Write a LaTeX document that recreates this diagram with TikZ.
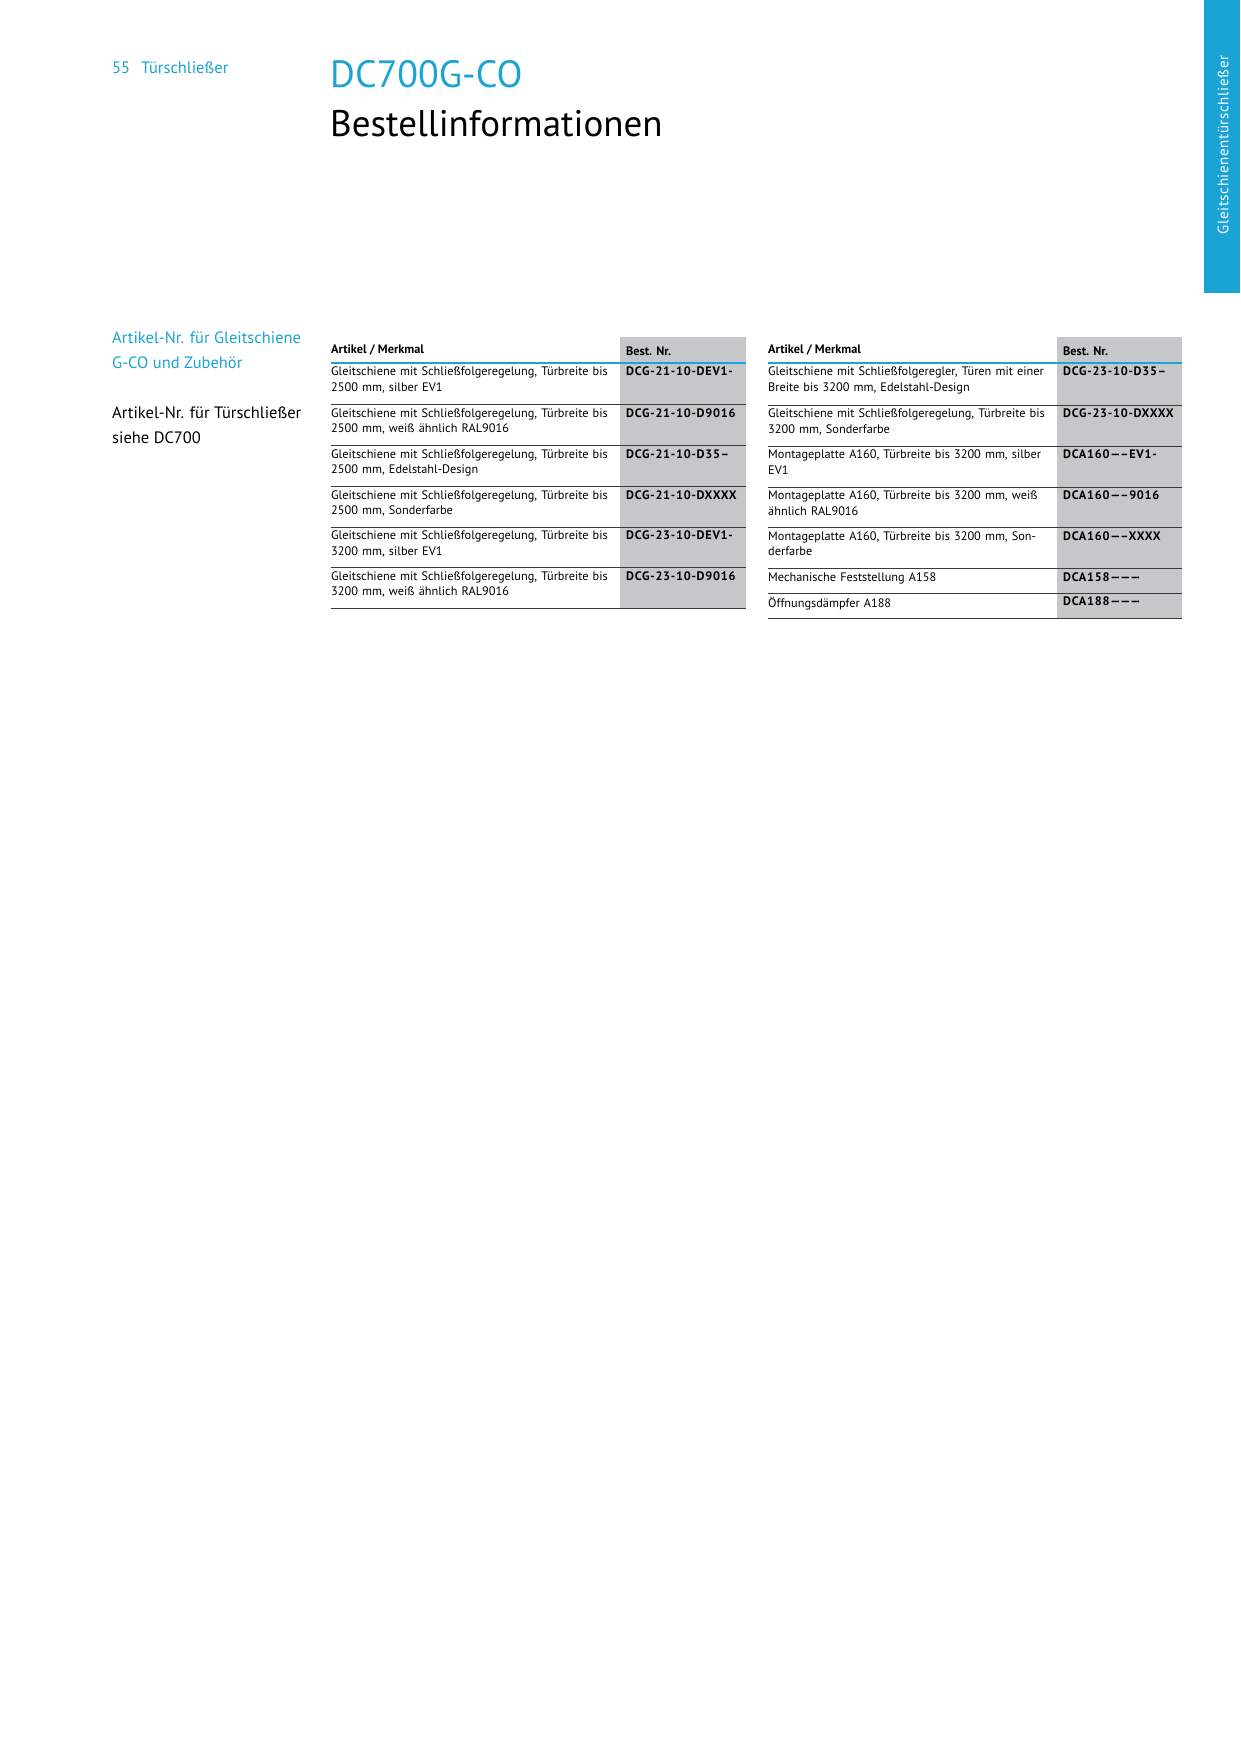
\documentclass[tikz,border=0pt]{standalone}
\usepackage{fontspec}
\setmainfont{PT Sans}
\definecolor{dblue}{HTML}{1AA3D5}
\definecolor{colgrey}{HTML}{C6C7C9}
\definecolor{lineg}{HTML}{3A3A3A}
\tikzset{
  cell/.style={anchor=north west,inner sep=0pt,align=left,text width=#1,font=\fontsize{12.3}{15.4}\selectfont},
  code/.style={anchor=north west,inner sep=0pt,font=\fontsize{12.3}{15.4}\selectfont\bfseries\addfontfeature{LetterSpace=6}},
  hdr/.style={anchor=west,inner sep=0pt,font=\fontsize{12.3}{15}\selectfont\bfseries},
  sep/.style={draw=lineg,line width=1pt},
  side/.style={anchor=north west,inner sep=0pt,align=left,font=\fontsize{16.5}{25}\selectfont}
}
\begin{document}
\begin{tikzpicture}[x=1pt,y=-1pt]
\useasboundingbox (0,0) rectangle (1240,1754);
\fill[white] (0,0) rectangle (1240,1754);
% tab
\fill[dblue] (1204,0) rectangle (1240,293);
\node[rotate=90,text=white,font=\fontsize{15}{15}\selectfont\addfontfeature{LetterSpace=4}] (tab) at (1223,145) {Gleitschienentürschließer};
% header
\node[anchor=base west,inner sep=0pt,text=dblue,font=\fontsize{16.5}{18}\selectfont] (pg) at (112,73) {55\hspace{11pt}Türschließer};
\node[anchor=base west,inner sep=0pt,text=dblue,font=\fontsize{38}{40}\selectfont] (t1) at (330,87) {DC700G-CO};
\node[anchor=base west,inner sep=0pt,font=\fontsize{37}{40}\selectfont] (t2) at (330,136) {Bestellinformationen};
% side text
\node[side,text=dblue] (s1) at (112,332) {Artikel-Nr. für Gleitschiene\\G-CO und Zubehör};
\node[side] (s2) at (112,407) {Artikel-Nr. für Türschließer\\siehe DC700};
% table 1
\fill[colgrey] (620,337) rectangle (746,608);
\node[hdr] (h1a) at (331,350) {Artikel / Merkmal};
\node[hdr] (h1b) at (626,351) {Best. Nr.};
\draw[dblue,line width=1.6pt] (331,363) -- (746,363);
\foreach \t/\b/\d/\c [count=\i] in {
363/404.5/{Gleitschiene mit Schließfolgeregelung, Türbreite bis 2500 mm, silber EV1}/DCG-21-10-DEV1-,
404.5/445.5/{Gleitschiene mit Schließfolgeregelung, Türbreite bis 2500 mm, weiß ähnlich RAL9016}/DCG-21-10-D9016,
445.5/486.5/{Gleitschiene mit Schließfolgeregelung, Türbreite bis 2500 mm, Edelstahl-Design}/DCG-21-10-D35--,
486.5/527/{Gleitschiene mit Schließfolgeregelung, Türbreite bis 2500 mm, Sonderfarbe}/DCG-21-10-DXXXX,
527/567.6/{Gleitschiene mit Schließfolgeregelung, Türbreite bis 3200 mm, silber EV1}/DCG-23-10-DEV1-,
567.6/608/{Gleitschiene mit Schließfolgeregelung, Türbreite bis 3200 mm, weiß ähnlich RAL9016}/DCG-23-10-D9016}{
  \node[cell=282pt] (a\i) at (331,\t+4) {\d};
  \node[code] (b\i) at (626,\t+4) {\c};
  \draw[sep] (331,\b) -- (746,\b);
}
% table 2
\fill[colgrey] (1057,337) rectangle (1182,618);
\node[hdr] (h2a) at (768,350) {Artikel / Merkmal};
\node[hdr] (h2b) at (1063,351) {Best. Nr.};
\draw[dblue,line width=1.6pt] (768,363) -- (1182,363);
\foreach \t/\b/\d/\c [count=\i] in {
363/405/{Gleitschiene mit Schließfolgeregler, Türen mit einer Breite bis 3200 mm, Edelstahl-Design}/DCG-23-10-D35--,
405/446/{Gleitschiene mit Schließfolgeregelung, Türbreite bis 3200 mm, Sonderfarbe}/DCG-23-10-DXXXX,
446/487/{Montageplatte A160, Türbreite bis 3200 mm, silber EV1}/DCA160-----EV1-,
487/527.5/{Montageplatte A160, Türbreite bis 3200 mm, weiß ähnlich RAL9016}/DCA160-----9016,
527.5/568.5/{Montageplatte A160, Türbreite bis 3200 mm, Sonderfarbe}/DCA160-----XXXX,
568.5/593/{Mechanische Feststellung A158}/DCA158---------,
593/618/{Öffnungsdämpfer A188}/DCA188---------}{
  \node[cell=282pt] (c\i) at (768,\t+4) {\d};
  \node[code] (d\i) at (1063,\t+4) {\c};
  \draw[sep] (768,\b) -- (1182,\b);
}
\end{tikzpicture}
\end{document}
